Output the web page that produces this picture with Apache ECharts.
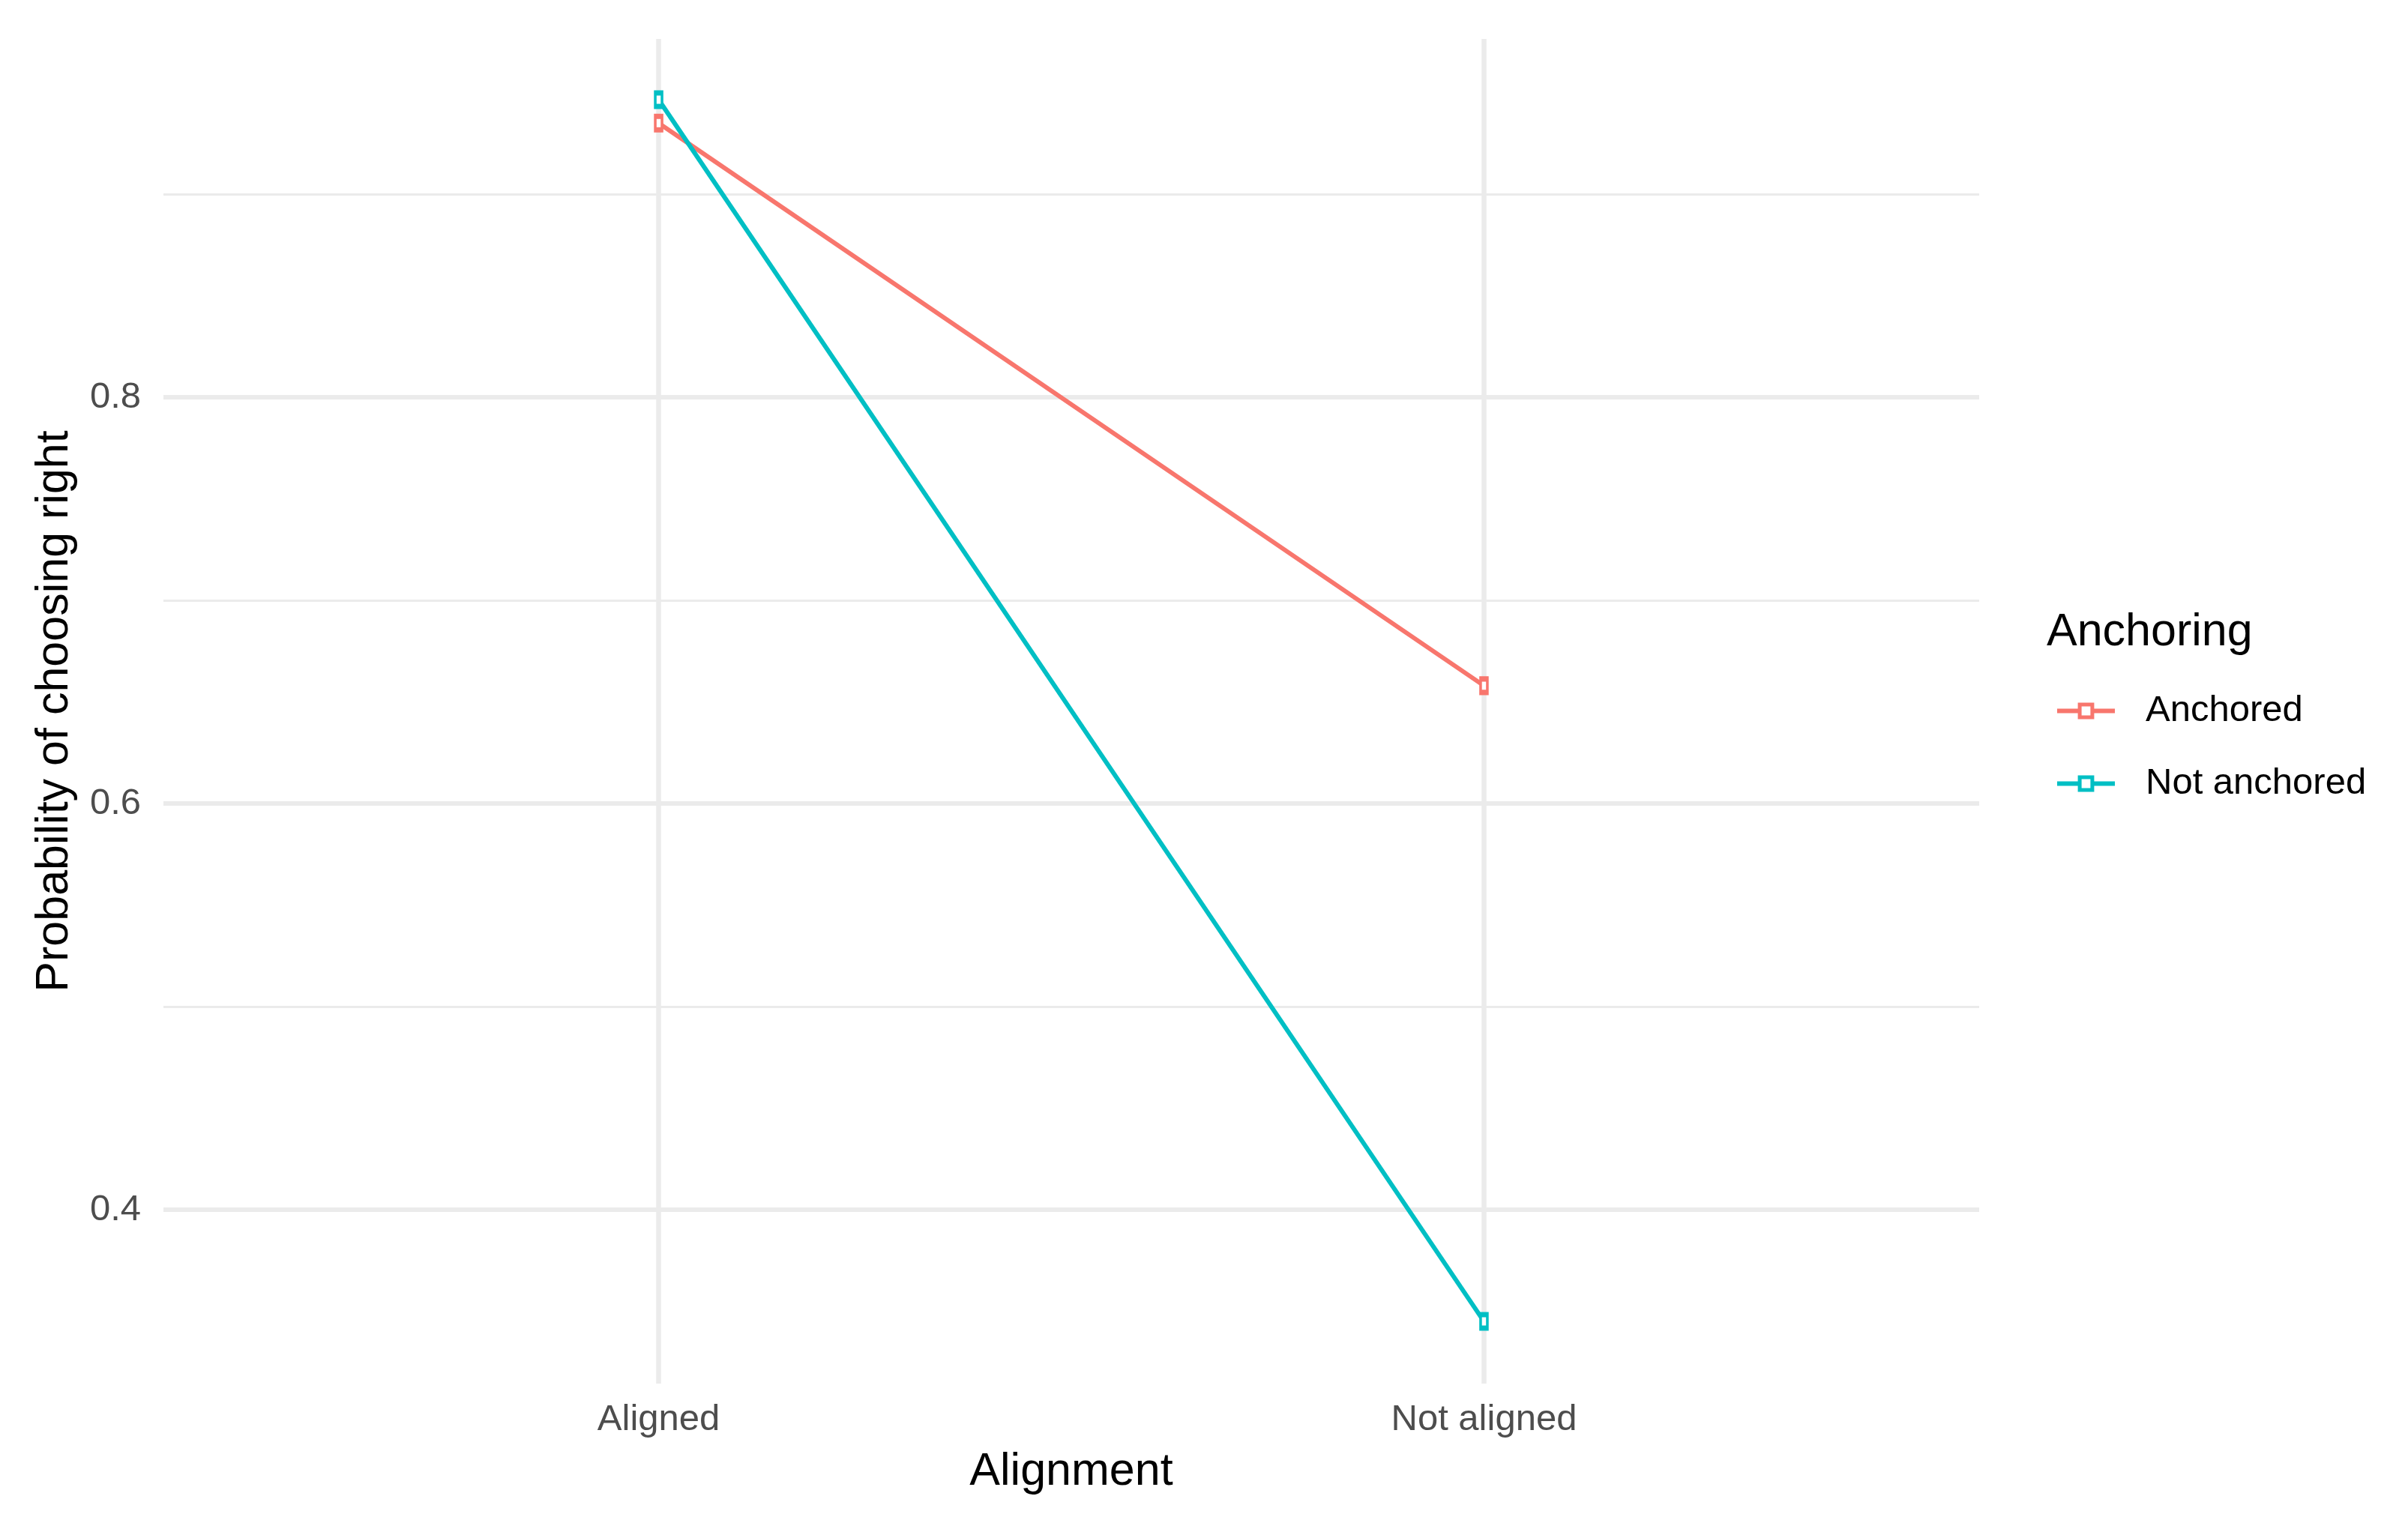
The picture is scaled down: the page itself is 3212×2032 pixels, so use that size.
<!DOCTYPE html>
<html>
<head>
<meta charset="utf-8">
<script src="https://cdn.jsdelivr.net/npm/echarts@6/dist/echarts.min.js"></script>
<style>
	html, body { margin: 0; padding: 0; background: #fff; }
	#chart { width: 3212px; height: 2032px; }
</style>
</head>
<body>
<div id="chart"></div>
<script>
	// x categories sit at positions 1, 2 on a numeric axis (ggplot discrete spacing)
	var categories = ['Aligned', 'Not aligned'];
	var catPos = [1, 2];
	var anchored = [0.935, 0.658];
	var notAnchored = [0.9465, 0.345];
	var seriesNames = ['Anchored', 'Not anchored'];
	var seriesColors = ['#F8766D', '#00BFC4'];

	var font = '"Liberation Sans", Arial, Helvetica, sans-serif';
	var gridCol = '#EBEBEB';

	function pairs(vals) {
		var out = [];
		for (var i = 0; i < vals.length; i++) {
			out.push([catPos[i], vals[i]]);
		}
		return out;
	}

	function makeSeries(name, vals, color) {
		return {
			name: name,
			type: 'line',
			data: pairs(vals),
			symbol: 'rect',
			symbolSize: [9, 18],
			showSymbol: true,
			lineStyle: { color: color, width: 6 },
			itemStyle: { color: '#fff', borderColor: color, borderWidth: 5 },
			emphasis: { disabled: true },
			z: 3
		};
	}

	var myChart = echarts.init(document.getElementById('chart'));
	var option = {
		backgroundColor: '#fff',
		animation: false,
		textStyle: { fontFamily: font },
		grid: { left: 218, right: 572, top: 52, bottom: 186 },
		title: {
			text: 'Anchoring',
			left: 2730,
			top: 814,
			padding: 0,
			textStyle: { fontFamily: font, fontSize: 61, fontWeight: 'normal', color: '#000', lineHeight: 61 }
		},
		legend: {
			orient: 'vertical',
			left: 2741,
			top: 924,
			padding: 0,
			itemWidth: 77,
			itemHeight: 21,
			itemGap: 48,
			data: seriesNames,
			lineStyle: { width: 6 },
			itemStyle: { borderWidth: 5 },
			textStyle: { fontFamily: font, fontSize: 49, color: '#000', lineHeight: 49, padding: [0, 0, 0, 36] }
		},
		xAxis: {
			type: 'value',
			min: 0.4,
			max: 2.6,
			minInterval: 1,
			maxInterval: 1,
			name: 'Alignment',
			nameLocation: 'middle',
			nameGap: 88,
			nameTextStyle: { fontFamily: font, fontSize: 61, color: '#000', lineHeight: 61 },
			axisLine: { show: false },
			axisTick: { show: false },
			axisLabel: {
				fontFamily: font, fontSize: 49, color: '#4D4D4D', margin: 24, lineHeight: 49,
				showMinLabel: false, showMaxLabel: false,
				formatter: function(v) {
					var i = catPos.indexOf(Math.round(v));
					if (Math.abs(v - Math.round(v)) > 1e-6 || i < 0) return '';
					return categories[i];
				}
			},
			splitLine: { show: true, showMinLine: false, showMaxLine: false, lineStyle: { color: gridCol, width: 6.5 } }
		},
		yAxis: [{
			type: 'value',
			min: 0.3144,
			max: 0.9764,
			minInterval: 0.2,
			maxInterval: 0.2,
			name: 'Probability of choosing right',
			nameLocation: 'middle',
			nameRotate: 90,
			nameGap: 114,
			nameTextStyle: { fontFamily: font, fontSize: 61, color: '#000', lineHeight: 61 },
			axisLine: { show: false },
			axisTick: { show: false },
			axisLabel: {
				fontFamily: font, fontSize: 49, color: '#4D4D4D', margin: 30,
				padding: [8, 0, 0, 0],
				showMinLabel: false, showMaxLabel: false,
				formatter: function(v) {
					var k = v / 0.2;
					if (Math.abs(k - Math.round(k)) > 1e-6) return '';
					return v.toFixed(1);
				}
			},
			splitLine: { show: true, showMinLine: false, showMaxLine: false, lineStyle: { color: gridCol, width: 6 } },
			z: 1
		}, {
			// minor gridlines only
			type: 'value',
			min: 0.3144,
			max: 0.9764,
			minInterval: 0.1,
			maxInterval: 0.1,
			position: 'left',
			axisLine: { show: false },
			axisTick: { show: false },
			axisLabel: { show: false },
			splitLine: { show: true, showMinLine: false, showMaxLine: false, lineStyle: { color: gridCol, width: 3 } },
			z: 0
		}],
		series: [
			makeSeries(seriesNames[0], anchored, seriesColors[0]),
			makeSeries(seriesNames[1], notAnchored, seriesColors[1])
		]
	};
	myChart.setOption(option);
</script>
</body>
</html>
